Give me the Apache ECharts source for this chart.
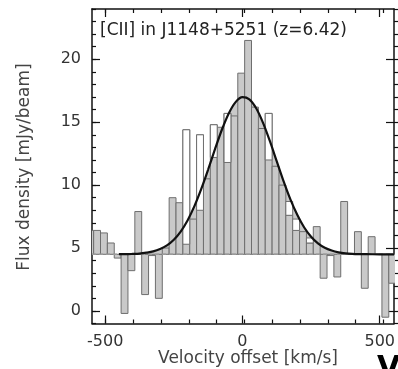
<!DOCTYPE html>
<html><head><meta charset="utf-8">
<script src="https://cdn.jsdelivr.net/npm/echarts@6/dist/echarts.min.js"></script>
<style>html,body{margin:0;padding:0;background:#fff}#c{width:398px;height:369px}</style>
</head><body><div id="c"></div>
<script>
// ---- data ----
const channelVel = [-554.5,-529.5,-504.5,-479.5,-454.5,-429.5,-404.5,-379.5,-354.5,-329.5,-304.5,-279.5,-254.5,-229.5,-204.5,-179.5,-154.5,-129.5,-104.5,-79.5,-54.5,-29.5,-4.5,20.5,45.5,70.5,95.5,120.5,145.5,170.5,195.5,220.5,245.5,270.5,295.5,320.5,345.5,370.5,395.5,420.5,445.5,470.5,495.5,520.5,545.5];
const channelFlux = [6.4,6.4,6.2,5.4,4.2,-0.2,3.2,7.9,1.3,4.4,1.0,5.0,9.0,8.6,14.4,7.3,14.0,10.5,14.8,14.6,15.7,15.5,18.9,21.5,16.2,14.5,15.7,11.5,10.0,7.6,6.4,6.3,5.4,6.7,2.6,4.4,2.7,8.7,4.5,6.3,1.8,5.9,4.5,-0.5,2.2];
const channelWidth = 25;
const continuum = 4.5;
// open (white) boxes inside the spectrum
const whiteVel  = [-204.5,-154.5,-104.5,-54.5,95.5,170.5,195.5,245.5];
const whiteLow  = [5.3, 8.0, 12.2, 11.8, 12.0, 7.6, 6.4, 5.4];
const whiteHigh = [14.4,14.0, 14.8, 15.7, 15.7, 8.7, 7.3, 5.8];
// Gaussian fit curve
const fitVel  = [-450,-425,-400,-375,-350,-325,-300,-275,-250,-225,-200,-175,-150,-125,-100,-75,-50,-25,0,25,50,75,100,125,150,175,200,225,250,275,300,325,350,375,400,425,450,500,552];
const fitFlux = [4.51,4.51,4.53,4.56,4.63,4.73,4.92,5.21,5.66,6.31,7.19,8.33,9.70,11.24,12.86,14.40,15.70,16.60,16.99,16.82,16.11,14.95,13.49,11.89,10.30,8.85,7.62,6.63,5.90,5.37,5.02,4.80,4.66,4.58,4.54,4.52,4.51,4.50,4.50];
const xMajorTicks = [-500, 0, 500];
const xMinorTicks = [-500,-400,-300,-200,-100,0,100,200,300,400,500];
const yMajorTicks = [0, 5, 10, 15, 20];
const yMinorTicks = [-1,0,1,2,3,4,5,6,7,8,9,10,11,12,13,14,15,16,17,18,19,20,21,22,23,24];

const XMIN = -548, XMAX = 552, YMIN = -1, YMAX = 24;
const FONT = 'DejaVu Sans';
const chart = echarts.init(document.getElementById('c'), null, {renderer: 'canvas'});
const G = {left: 92, top: 9, width: 306, height: 314.5, containLabel: false};

function xAx(grid, pos, major, labels) {
  return {
    type: 'value', gridIndex: grid, position: pos, min: XMIN, max: XMAX,
    axisLine: {show: major, onZero: false, lineStyle: {color: '#111', width: 1.5}},
    axisTick: {show: true, inside: true, length: major ? 8 : 4, customValues: major ? xMajorTicks : xMinorTicks,
               lineStyle: {color: '#111', width: 1.2}},
    axisLabel: {show: labels, customValues: xMajorTicks, margin: 10, fontSize: 16, fontFamily: FONT, color: '#333'},
    splitLine: {show: false}
  };
}
function yAx(grid, pos, major, labels) {
  return {
    type: 'value', gridIndex: grid, position: pos, min: YMIN, max: YMAX,
    axisLine: {show: major, onZero: false, lineStyle: {color: '#111', width: 1.5}},
    axisTick: {show: true, inside: true, length: major ? 8 : 4, customValues: major ? yMajorTicks : yMinorTicks,
               lineStyle: {color: '#111', width: 1.2}},
    axisLabel: {show: labels, customValues: yMajorTicks, margin: 11, fontSize: 16, fontFamily: FONT, color: '#333'},
    splitLine: {show: false}
  };
}

const barData = channelVel.map((v, i) => [v, channelFlux[i]]);
const whiteData = whiteVel.map((v, i) => [v, whiteLow[i], whiteHigh[i]]);
const fitData = fitVel.map((v, i) => [v, fitFlux[i]]);

chart.setOption({
  animation: false,
  grid: [Object.assign({}, G), Object.assign({}, G)],
  xAxis: [xAx(0, 'bottom', true, true), xAx(0, 'top', true, false), xAx(1, 'bottom', false, false), xAx(1, 'top', false, false)],
  yAxis: [yAx(0, 'left', true, true), yAx(0, 'right', true, false), yAx(1, 'left', false, false), yAx(1, 'right', false, false)],
  series: [
    { // gray area under the Gaussian fit
      type: 'custom', clip: true, z: 1, data: [[0, 0]],
      renderItem: function (params, api) {
        const pts = [api.coord([fitVel[0], continuum])];
        for (let i = 0; i < fitVel.length; i++) pts.push(api.coord([fitVel[i], fitFlux[i]]));
        pts.push(api.coord([fitVel[fitVel.length - 1], continuum]));
        return {type: 'polygon', shape: {points: pts, smooth: 0.3}, style: {fill: '#c9c9c9', stroke: null}};
      }
    },
    { // spectrum channels
      type: 'custom', clip: true, z: 2, data: barData,
      renderItem: function (params, api) {
        const v = api.value(0), f = api.value(1);
        const p0 = api.coord([v - channelWidth / 2, continuum]);
        const p1 = api.coord([v + channelWidth / 2, f]);
        return {type: 'rect', shape: {x: p0[0], y: Math.min(p0[1], p1[1]), width: p1[0] - p0[0], height: Math.abs(p1[1] - p0[1])},
                style: {fill: '#c9c9c9', stroke: '#6e6e6e', lineWidth: 1}};
      }
    },
    { // open boxes
      type: 'custom', clip: true, z: 3, data: whiteData,
      renderItem: function (params, api) {
        const v = api.value(0), lo = api.value(1), hi = api.value(2);
        const p0 = api.coord([v - channelWidth / 2, lo]);
        const p1 = api.coord([v + channelWidth / 2, hi]);
        return {type: 'rect', shape: {x: p0[0], y: p1[1], width: p1[0] - p0[0], height: p0[1] - p1[1]},
                style: {fill: '#ffffff', stroke: '#6e6e6e', lineWidth: 1}};
      }
    },
    { // continuum level
      type: 'line', z: 4, data: [[XMIN, continuum], [XMAX, continuum]], showSymbol: false, symbol: 'none',
      lineStyle: {color: '#9a9a9a', width: 1.5, type: [4, 3]}
    },
    { // Gaussian fit
      type: 'line', z: 5, data: fitData, smooth: 0.3, showSymbol: false, symbol: 'none',
      lineStyle: {color: '#111', width: 2.2}
    }
  ],
  graphic: [
    {type: 'text', left: 100, top: 22, z: 10, style: {text: '[CII] in J1148+5251 (z=6.42)', font: '17px "DejaVu Sans"', fill: '#222'}},
    {type: 'text', x: 25, y: 167, rotation: Math.PI / 2, z: 10,
     style: {text: 'Flux density [mJy/beam]', font: '17px "DejaVu Sans"', fill: '#444', align: 'center', verticalAlign: 'middle'}},
    {type: 'text', x: 248, y: 359, z: 10,
     style: {text: 'Velocity offset [km/s]', font: '17px "DejaVu Sans"', fill: '#444', align: 'center', verticalAlign: 'middle'}},
    {type: 'text', x: 377, y: 354, z: 10, style: {text: 'V', font: 'bold 30px "DejaVu Sans"', fill: '#000'}}
  ]
});
</script></body></html>
